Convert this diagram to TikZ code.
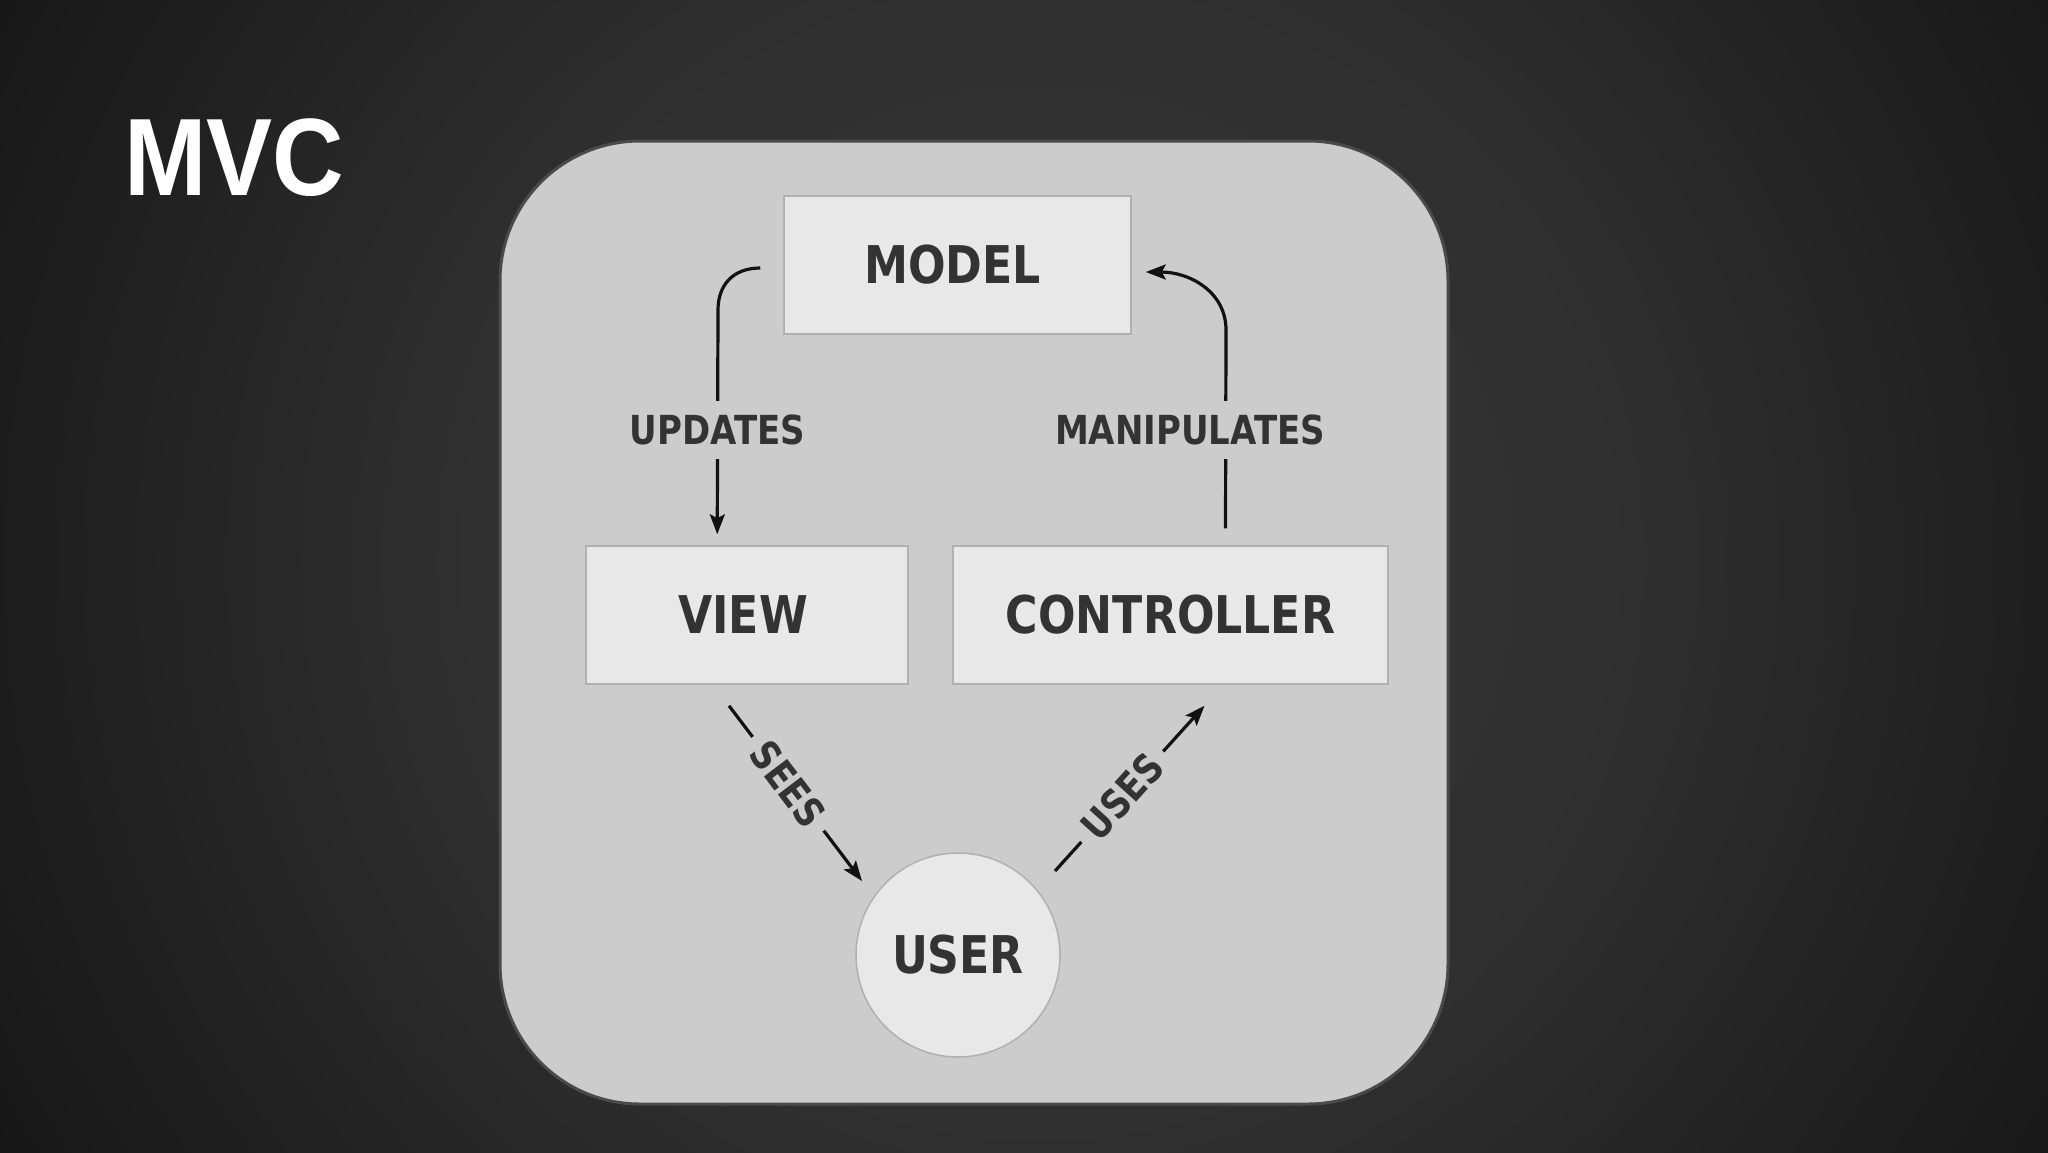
\documentclass[tikz,border=0pt]{standalone}
\usepackage{fontspec}
\usetikzlibrary{arrows.meta,calc}
\newfontfamily\diafont{DejaVu Sans}[FakeStretch=0.85]
\newfontfamily\titlefont{Liberation Sans}[UprightFont={* Bold}, FakeStretch=0.9]
\definecolor{bga}{HTML}{333333}
\definecolor{bgb}{HTML}{303030}
\definecolor{bgc}{HTML}{282828}
\definecolor{bgd}{HTML}{222222}
\definecolor{bge}{HTML}{1A1A1A}
\definecolor{bgf}{HTML}{101010}
\definecolor{bgg}{HTML}{080808}
\definecolor{bgh}{HTML}{050505}
\definecolor{panelfill}{HTML}{CCCCCC}
\definecolor{panelline}{HTML}{4A4A4A}
\definecolor{boxfill}{HTML}{E8E8E8}
\definecolor{boxline}{HTML}{B0B0B0}
\definecolor{txt}{HTML}{333333}
\definecolor{arrowcol}{HTML}{111111}
\pgfdeclareradialshading{bgshade}{\pgfpoint{0bp}{0bp}}{color(0bp)=(bga); color(11.8bp)=(bgb); color(16.2bp)=(bgc); color(19.1bp)=(bgd); color(23.5bp)=(bge); color(28bp)=(bgf); color(30.9bp)=(bgg); color(35.4bp)=(bgh); color(50bp)=(bgh)}
\tikzset{
  panelbox/.style={draw=panelline, fill=panelfill, line width=3pt, rounded corners=140pt, inner sep=0pt},
  box/.style={draw=boxline, fill=boxfill, line width=1.5pt, text=txt, inner sep=0pt,
    font=\diafont\bfseries\fontsize{52}{60}\selectfont},
  userbox/.style={box, circle, minimum size=204pt},
  lbl/.style={fill=panelfill, text=txt, inner xsep=11pt, inner ysep=14pt,
    font=\diafont\bfseries\fontsize{40}{48}\selectfont},
  conn/.style={draw=arrowcol, line width=3.2pt, -{Stealth[length=20pt,width=15pt,inset=4pt]}},
  plain/.style={draw=arrowcol, line width=3.2pt}
}
\begin{document}
\begin{tikzpicture}[x=1pt,y=-1pt]
\fill[bgh] (0,0) rectangle (2048,1152);
\begin{scope}
\clip (0,0) rectangle (2048,1152);
\shade[shading=bgshade] (1040,560) circle (1200);
\end{scope}
\useasboundingbox (0,0) rectangle (2048,1152);
\node[anchor=base west, text=white, inner sep=0pt,
  font=\titlefont\fontsize{110}{120}\selectfont] (title) at (124,195) {MVC};
\node[panelbox, minimum width=948pt, minimum height=963pt] (panel) at (974,622.5) {};
\node[box, minimum width=347pt, minimum height=138pt] (model) at (957.5,265) {MODEL\hspace*{10pt}};
\node[box, minimum width=322pt, minimum height=138pt] (view) at (747,615) {VIEW\hspace*{8pt}};
\node[box, minimum width=435pt, minimum height=138pt] (controller) at (1170.5,615) {CONTROLLER};
\node[userbox] (user) at (958,955) {USER};
% updates
\draw[conn] ($(model.west)+(-23,3)$) .. controls (733,268) and (718,285) .. (718,310)
  -- node[lbl, pos=0.535] {UPDATES} ($(view.north west)+(132,-11)$);
% manipulates
\draw[conn] ($(controller.north)+(55,-17)$) -- (1226,330)
  .. controls (1226,292) and (1190,272) .. ($(model.east)+(14,7)$);
\node[lbl] (manip) at (1190,430) {MANIPULATES};
% sees
\draw[conn] ($(view.south)+(-18,21)$) -- node[lbl, sloped, pos=0.445] {SEES} ($(user.center)+(-96,-74)$);
% uses
\draw[conn] ($(user.center)+(97,-84)$) -- node[lbl, sloped, pos=0.45] {USES} ($(controller.south)+(34,21)$);
\end{tikzpicture}
\end{document}
